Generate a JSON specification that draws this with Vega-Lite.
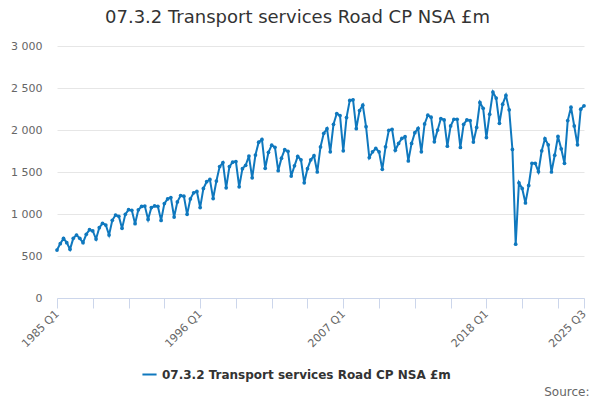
{
  "$schema": "https://vega.github.io/schema/vega-lite/v6.json",
  "width": 527,
  "height": 252,
  "autosize": {"type": "none"},
  "padding": {"left": 57, "top": 46, "right": 16, "bottom": 102},
  "background": "white",
  "title": {
    "text": "07.3.2 Transport services Road CP NSA £m",
    "font": "DejaVu Sans",
    "fontSize": 18,
    "fontWeight": "normal",
    "color": "#333333",
    "anchor": "middle",
    "frame": "group",
    "dx": -23,
    "offset": 13
  },
  "data": {
    "values": [
      {"q":"1985 Q1","v":571},{"q":"1985 Q2","v":647},{"q":"1985 Q3","v":710},{"q":"1985 Q4","v":659},
      {"q":"1986 Q1","v":579},{"q":"1986 Q2","v":710},{"q":"1986 Q3","v":750},{"q":"1986 Q4","v":710},
      {"q":"1987 Q1","v":659},{"q":"1987 Q2","v":758},{"q":"1987 Q3","v":813},{"q":"1987 Q4","v":798},
      {"q":"1988 Q1","v":702},{"q":"1988 Q2","v":837},{"q":"1988 Q3","v":889},{"q":"1988 Q4","v":869},
      {"q":"1989 Q1","v":750},{"q":"1989 Q2","v":925},{"q":"1989 Q3","v":988},{"q":"1989 Q4","v":972},
      {"q":"1990 Q1","v":829},{"q":"1990 Q2","v":996},{"q":"1990 Q3","v":1052},{"q":"1990 Q4","v":1044},
      {"q":"1991 Q1","v":885},{"q":"1991 Q2","v":1050},{"q":"1991 Q3","v":1090},{"q":"1991 Q4","v":1095},
      {"q":"1992 Q1","v":936},{"q":"1992 Q2","v":1076},{"q":"1992 Q3","v":1096},{"q":"1992 Q4","v":1092},
      {"q":"1993 Q1","v":924},{"q":"1993 Q2","v":1124},{"q":"1993 Q3","v":1180},{"q":"1993 Q4","v":1196},
      {"q":"1994 Q1","v":964},{"q":"1994 Q2","v":1144},{"q":"1994 Q3","v":1220},{"q":"1994 Q4","v":1212},
      {"q":"1995 Q1","v":996},{"q":"1995 Q2","v":1180},{"q":"1995 Q3","v":1252},{"q":"1995 Q4","v":1268},
      {"q":"1996 Q1","v":1076},{"q":"1996 Q2","v":1304},{"q":"1996 Q3","v":1384},{"q":"1996 Q4","v":1412},
      {"q":"1997 Q1","v":1184},{"q":"1997 Q2","v":1392},{"q":"1997 Q3","v":1564},{"q":"1997 Q4","v":1612},
      {"q":"1998 Q1","v":1312},{"q":"1998 Q2","v":1564},{"q":"1998 Q3","v":1617},{"q":"1998 Q4","v":1625},
      {"q":"1999 Q1","v":1323},{"q":"1999 Q2","v":1540},{"q":"1999 Q3","v":1580},{"q":"1999 Q4","v":1690},
      {"q":"2000 Q1","v":1431},{"q":"2000 Q2","v":1702},{"q":"2000 Q3","v":1855},{"q":"2000 Q4","v":1887},
      {"q":"2001 Q1","v":1544},{"q":"2001 Q2","v":1734},{"q":"2001 Q3","v":1819},{"q":"2001 Q4","v":1794},
      {"q":"2002 Q1","v":1516},{"q":"2002 Q2","v":1665},{"q":"2002 Q3","v":1766},{"q":"2002 Q4","v":1746},
      {"q":"2003 Q1","v":1452},{"q":"2003 Q2","v":1573},{"q":"2003 Q3","v":1685},{"q":"2003 Q4","v":1645},
      {"q":"2004 Q1","v":1371},{"q":"2004 Q2","v":1540},{"q":"2004 Q3","v":1645},{"q":"2004 Q4","v":1694},
      {"q":"2005 Q1","v":1500},{"q":"2005 Q2","v":1798},{"q":"2005 Q3","v":1960},{"q":"2005 Q4","v":2016},
      {"q":"2006 Q1","v":1740},{"q":"2006 Q2","v":2068},{"q":"2006 Q3","v":2196},{"q":"2006 Q4","v":2172},
      {"q":"2007 Q1","v":1752},{"q":"2007 Q2","v":2148},{"q":"2007 Q3","v":2352},{"q":"2007 Q4","v":2360},
      {"q":"2008 Q1","v":2016},{"q":"2008 Q2","v":2232},{"q":"2008 Q3","v":2296},{"q":"2008 Q4","v":2040},
      {"q":"2009 Q1","v":1672},{"q":"2009 Q2","v":1740},{"q":"2009 Q3","v":1780},{"q":"2009 Q4","v":1740},
      {"q":"2010 Q1","v":1532},{"q":"2010 Q2","v":1800},{"q":"2010 Q3","v":1996},{"q":"2010 Q4","v":2008},
      {"q":"2011 Q1","v":1760},{"q":"2011 Q2","v":1840},{"q":"2011 Q3","v":1900},{"q":"2011 Q4","v":1920},
      {"q":"2012 Q1","v":1632},{"q":"2012 Q2","v":1840},{"q":"2012 Q3","v":1968},{"q":"2012 Q4","v":2020},
      {"q":"2013 Q1","v":1740},{"q":"2013 Q2","v":2072},{"q":"2013 Q3","v":2176},{"q":"2013 Q4","v":2152},
      {"q":"2014 Q1","v":1860},{"q":"2014 Q2","v":2000},{"q":"2014 Q3","v":2136},{"q":"2014 Q4","v":2120},
      {"q":"2015 Q1","v":1808},{"q":"2015 Q2","v":2048},{"q":"2015 Q3","v":2128},{"q":"2015 Q4","v":2128},
      {"q":"2016 Q1","v":1792},{"q":"2016 Q2","v":2068},{"q":"2016 Q3","v":2120},{"q":"2016 Q4","v":2112},
      {"q":"2017 Q1","v":1856},{"q":"2017 Q2","v":2030},{"q":"2017 Q3","v":2328},{"q":"2017 Q4","v":2258},
      {"q":"2018 Q1","v":1910},{"q":"2018 Q2","v":2188},{"q":"2018 Q3","v":2452},{"q":"2018 Q4","v":2380},
      {"q":"2019 Q1","v":2080},{"q":"2019 Q2","v":2308},{"q":"2019 Q3","v":2412},{"q":"2019 Q4","v":2240},
      {"q":"2020 Q1","v":1768},{"q":"2020 Q2","v":640},{"q":"2020 Q3","v":1372},{"q":"2020 Q4","v":1304},
      {"q":"2021 Q1","v":1132},{"q":"2021 Q2","v":1340},{"q":"2021 Q3","v":1604},{"q":"2021 Q4","v":1604},
      {"q":"2022 Q1","v":1504},{"q":"2022 Q2","v":1752},{"q":"2022 Q3","v":1896},{"q":"2022 Q4","v":1824},
      {"q":"2023 Q1","v":1500},{"q":"2023 Q2","v":1700},{"q":"2023 Q3","v":1924},{"q":"2023 Q4","v":1776},
      {"q":"2024 Q1","v":1604},{"q":"2024 Q2","v":2112},{"q":"2024 Q3","v":2272},{"q":"2024 Q4","v":2048},
      {"q":"2025 Q1","v":1824},{"q":"2025 Q2","v":2248},{"q":"2025 Q3","v":2288}
    ]
  },
  "mark": {
    "type": "line",
    "strokeWidth": 2,
    "point": {"filled": true, "size": 14}
  },
  "encoding": {
    "x": {
      "field": "q",
      "type": "ordinal",
      "sort": null,
      "scale": {"type": "point", "padding": 0},
      "axis": {
        "title": null,
        "values": ["1985 Q1","1987 Q4","1990 Q3","1993 Q2","1996 Q1","1998 Q4","2001 Q3","2004 Q2","2007 Q1","2009 Q4","2012 Q3","2015 Q2","2018 Q1","2020 Q4","2023 Q3","2025 Q3"],
        "labelExpr": "indexof(['1985 Q1','1996 Q1','2007 Q1','2018 Q1','2025 Q3'], datum.value) >= 0 ? datum.value : ''",
        "labelAngle": -45,
        "labelAlign": "right",
        "labelBaseline": "middle",
        "labelFont": "DejaVu Sans",
        "labelFontSize": 11,
        "labelColor": "#666666",
        "labelPadding": 4,
        "labelOverlap": false,
        "domainColor": "#ccd6eb",
        "tickColor": "#ccd6eb",
        "tickSize": 10,
        "grid": false
      }
    },
    "y": {
      "field": "v",
      "type": "quantitative",
      "scale": {"domain": [0, 3000], "nice": false},
      "axis": {
        "title": "Source:",
        "titleAngle": 0,
        "titleX": 532,
        "titleY": 349,
        "titleAlign": "right",
        "titleBaseline": "alphabetic",
        "titleFont": "DejaVu Sans",
        "titleFontSize": 12,
        "titleFontWeight": "normal",
        "titleColor": "#666666",
        "values": [0, 500, 1000, 1500, 2000, 2500, 3000],
        "labelExpr": "replace(format(datum.value, ','), /,/g, ' ')",
        "labelFont": "DejaVu Sans",
        "labelFontSize": 11,
        "labelColor": "#666666",
        "labelPadding": 15,
        "domain": false,
        "ticks": false,
        "gridColor": "#e6e6e6"
      }
    },
    "color": {
      "datum": "07.3.2 Transport services Road CP NSA £m",
      "type": "nominal",
      "scale": {"range": ["#0f78be"]},
      "legend": {
        "title": null,
        "orient": "none",
        "legendX": 84,
        "legendY": 320,
        "symbolType": "stroke",
        "symbolStrokeWidth": 2,
        "symbolSize": 200,
        "labelFont": "DejaVu Sans",
        "labelFontSize": 12,
        "labelFontWeight": "bold",
        "labelColor": "#333333",
        "labelLimit": 0
      }
    }
  },
  "config": {
    "view": {"stroke": null}
  }
}
